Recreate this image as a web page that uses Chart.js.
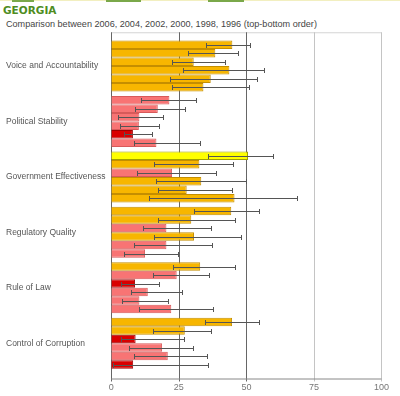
<!DOCTYPE html>
<html>
<head>
<meta charset="utf-8">
<script src="https://cdn.jsdelivr.net/npm/chart.js@4"></script>
<style>
  body { margin: 0; background: #fff; width: 400px; height: 396px; overflow: hidden; position: relative; }
  .topline { position: absolute; left: 0; top: 0; width: 400px; height: 1px; background: #f2efc0; }
  .tab { position: absolute; top: 0; height: 2px; background: #7aa84a; }
  #title { position: absolute; left: 3px; top: 4px; font: bold 10.5px "DejaVu Sans", Verdana, sans-serif; color: #4e8c22; }
  #subtitle { position: absolute; left: 6px; top: 19px; font: 9.1px "Liberation Sans", Arial, sans-serif; color: #444; }
  #wrap { position: absolute; left: 0; top: 0; width: 400px; height: 396px; }
</style>
</head>
<body>
<div class="topline"></div>
<div class="tab" style="left:12px;width:22px"></div>
<div class="tab" style="left:106px;width:35px"></div>
<div class="tab" style="left:208px;width:36px"></div>
<div id="title">GEORGIA</div>
<div id="subtitle">Comparison between 2006, 2004, 2002, 2000, 1998, 1996 (top-bottom order)</div>
<div id="wrap"><canvas id="wgi-chart"></canvas></div>
<script>
 /*-------------------
 Data
 -------------------*/
 const categories = ['Voice and Accountability', 'Political Stability', 'Government Effectiveness',
   'Regulatory Quality', 'Rule of Law', 'Control of Corruption'];
 const years = ['2006', '2004', '2002', '2000', '1998', '1996'];
 const xTicks = [0, 25, 50, 75, 100];

 // percentile rank per year (categories in order above)
 const rank2006 = [44.8, 21.5, 50.6, 44.4, 32.9, 44.7];
 const rank2004 = [38.5, 17.2, 32.6, 29.6, 24.2, 27.2];
 const rank2002 = [30.5, 10.4, 22.5, 20.4, 8.8, 9.0];
 const rank2000 = [43.7, 10.2, 33.3, 30.6, 13.5, 18.8];
 const rank1998 = [36.8, 8.0, 27.9, 20.4, 10.4, 20.9];
 const rank1996 = [34.1, 16.7, 45.6, 12.5, 22.2, 8.1];

 // margins of error (low / high)
 const low2006 = [35.0, 11.1, 35.9, 30.6, 22.9, 34.8];
 const high2006 = [51.5, 31.2, 59.9, 54.8, 45.6, 54.8];
 const low2004 = [28.5, 8.9, 15.9, 17.2, 15.3, 15.3];
 const high2004 = [46.8, 27.2, 45.2, 45.9, 36.3, 37.0];
 const low2002 = [22.5, 2.5, 9.6, 11.7, 3.7, 3.7];
 const high2002 = [42.0, 19.0, 38.9, 36.9, 17.8, 26.9];
 const low2000 = [26.6, 3.1, 16.4, 15.9, 7.2, 6.6];
 const high2000 = [56.4, 17.5, 49.8, 48.1, 26.3, 30.4];
 const low1998 = [21.9, 4.6, 17.2, 8.5, 4.1, 8.5];
 const high1998 = [54.0, 15.2, 44.8, 37.4, 20.9, 35.6];
 const low1996 = [22.5, 8.3, 14.1, 4.7, 10.1, 0.7];
 const high1996 = [51.0, 33.0, 68.9, 24.6, 37.8, 35.9];

 const ranks = [rank2006, rank2004, rank2002, rank2000, rank1998, rank1996];
 const lows = [low2006, low2004, low2002, low2000, low1998, low1996];
 const highs = [high2006, high2004, high2002, high2000, high1998, high1996];

 /*-------------------
 Colours by percentile band
 -------------------*/
 function fillFor(v) {
   if (v < 10) return '#d90000';
   if (v < 25) return '#f87474';
   if (v < 50) return '#f7b600';
   if (v < 75) return '#ffff00';
   return '#9acd32';
 }
 function borderFor(v) {
   if (v < 10) return '#a00000';
   if (v < 25) return '#d85a5a';
   if (v < 50) return '#c48e00';
   if (v < 75) return '#a0a000';
   return '#5f8a1e';
 }

 // --------- frame / grid drawn behind the bars -----------
 const framePlugin = {
   id: 'frame',
   beforeDatasetsDraw(chart) {
     const { ctx, chartArea, scales } = chart;
     const top = chartArea.top - 6;
     const bottom = chartArea.bottom + 7.5;
     const x = scales.x;
     ctx.save();
     ctx.lineWidth = 1;
     // top border
     ctx.strokeStyle = '#d4d4d4';
     ctx.beginPath();
     ctx.moveTo(x.getPixelForValue(0), top + 0.5);
     ctx.lineTo(x.getPixelForValue(100), top + 0.5);
     ctx.stroke();
     xTicks.forEach((t) => {
       const px = Math.round(x.getPixelForValue(t)) + 0.5;
       ctx.strokeStyle = (t === 75 || t === 100) ? '#c4c4c4' : '#666';
       ctx.beginPath();
       ctx.moveTo(px, top);
       ctx.lineTo(px, bottom + 3);
       ctx.stroke();
     });
     // bottom axis
     ctx.strokeStyle = '#888';
     ctx.beginPath();
     ctx.moveTo(x.getPixelForValue(0), bottom + 0.5);
     ctx.lineTo(x.getPixelForValue(100), bottom + 0.5);
     ctx.stroke();
     ctx.restore();
   }
 };

 // --------- error bars -----------
 const errorPlugin = {
   id: 'errorBars',
   afterDatasetsDraw(chart) {
     const { ctx, scales } = chart;
     ctx.save();
     ctx.lineWidth = 1;
     ctx.strokeStyle = '#555';
     chart.data.datasets.forEach((ds, d) => {
       const meta = chart.getDatasetMeta(d);
       meta.data.forEach((bar, i) => {
         const y = Math.round(bar.y) + 0.5;
         const x1 = Math.round(scales.x.getPixelForValue(lows[d][i])) + 0.5;
         const x2 = Math.round(scales.x.getPixelForValue(highs[d][i])) + 0.5;
         ctx.beginPath();
         ctx.moveTo(x1, y);
         ctx.lineTo(x2, y);
         ctx.moveTo(x1, y - 2.5);
         ctx.lineTo(x1, y + 2.5);
         ctx.moveTo(x2, y - 2.5);
         ctx.lineTo(x2, y + 2.5);
         ctx.stroke();
       });
     });
     ctx.restore();
   }
 };

 const wgiCanvas = document.getElementById('wgi-chart');

 let wgiData = {
   labels: categories,
   datasets: years.map((yr, d) => ({
     label: yr,
     data: ranks[d],
     backgroundColor: ranks[d].map(fillFor),
     borderColor: ranks[d].map(borderFor),
     borderWidth: 1,
     categoryPercentage: 0.92,
     barPercentage: 1.0
   }))
 };

 let wgiOptions = {
   indexAxis: 'y',
   responsive: true,
   maintainAspectRatio: false,
   animation: false,
   layout: { padding: { left: 6, right: 18.3, top: 38.25, bottom: 3 } },
   scales: {
     x: {
       min: 0,
       max: 100,
       afterBuildTicks: (scale) => { scale.ticks = xTicks.map((v) => ({ value: v })); },
       afterFit: (scale) => { scale.height = 22; },
       grid: { display: false, drawTicks: false },
       border: { display: false },
       ticks: {
         padding: 11,
         color: '#777',
         font: { family: '"Liberation Sans", Arial, sans-serif', size: 9 }
       }
     },
     y: {
       afterFit: (scale) => { scale.width = 105.3; },
       grid: { display: false, drawTicks: false },
       border: { display: false },
       ticks: {
         crossAlign: 'far',
         color: '#555',
         font: { family: '"Liberation Sans", Arial, sans-serif', size: 8.5 }
       }
     }
   },
   plugins: {
     legend: { display: false },
     tooltip: { enabled: false }
   }
 };

 let wgiChart = new Chart(wgiCanvas, {
   type: 'bar',
   data: wgiData,
   options: wgiOptions,
   plugins: [framePlugin, errorPlugin]
 });
</script>
</body>
</html>
